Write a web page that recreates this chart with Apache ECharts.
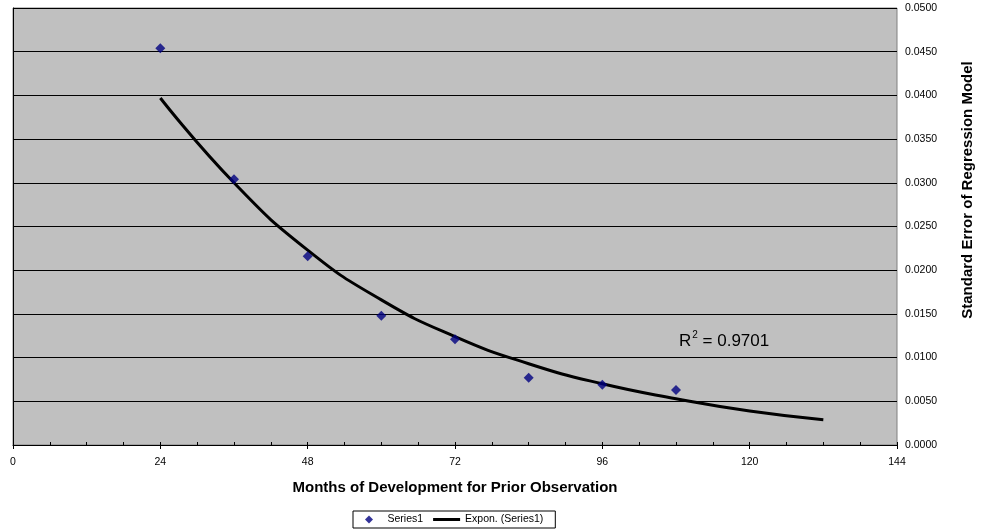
<!DOCTYPE html>
<html>
<head>
<meta charset="utf-8">
<script src="https://cdn.jsdelivr.net/npm/echarts@6/dist/echarts.min.js"></script>
<style>html,body{margin:0;padding:0;background:#fff;}#c{width:1003px;height:531px;}</style>
</head>
<body>
<div id="c"></div>
<script>
// Observed data
const months = [24, 36, 48, 60, 72, 84, 96, 108];
const stdError = [0.0454, 0.0304, 0.0216, 0.0148, 0.0121, 0.0077, 0.0069, 0.0063];
// Exponential trendline
const trendMonths = [24, 36, 48, 60, 72, 84, 96, 108, 120, 132];
const trendValues = [0.0397, 0.0300, 0.0223, 0.0166, 0.0124, 0.0093, 0.0070, 0.0053, 0.0039, 0.0029];
const xTicks = [0, 24, 48, 72, 96, 120, 144];
const yTicks = [0, 0.005, 0.01, 0.015, 0.02, 0.025, 0.03, 0.035, 0.04, 0.045, 0.05];
const rSquared = '0.9701';

const FONT = 'Liberation Sans, Arial, sans-serif';
const chart = echarts.init(document.getElementById('c'), null, {renderer: 'canvas'});

chart.setOption({
  animation: false,
  backgroundColor: '#ffffff',
  grid: {
    left: 13, right: 106, top: 8, bottom: 86,
    show: true, backgroundColor: '#C0C0C0', borderColor: '#808080', borderWidth: 1
  },
  xAxis: [{
    type: 'value', min: xTicks[0], max: xTicks[xTicks.length - 1], interval: 24,
    axisLine: {show: true, lineStyle: {color: '#000', width: 1}},
    axisTick: {show: true, inside: false, length: 4, lineStyle: {color: '#000'}},
    axisLabel: {color: '#000', fontSize: 10.5, fontFamily: FONT, margin: 12},
    splitLine: {show: false},
    name: 'Months of Development for Prior Observation',
    nameLocation: 'middle', nameGap: 35,
    nameTextStyle: {color: '#000', fontSize: 15, fontWeight: 'bold', fontFamily: FONT}
  }, {
    type: 'value', min: xTicks[0], max: xTicks[xTicks.length - 1], interval: 24,
    position: 'bottom',
    axisLine: {show: false},
    axisTick: {show: true, inside: true, length: 3, lineStyle: {color: '#000'}},
    minorTick: {show: true, splitNumber: 4, length: 3, lineStyle: {color: '#000'}},
    axisLabel: {show: false},
    splitLine: {show: false}
  }],
  yAxis: {
    type: 'value', position: 'right', min: yTicks[0], max: yTicks[yTicks.length - 1], interval: 0.005,
    axisLine: {show: true, lineStyle: {color: '#000', width: 1}},
    axisTick: {show: true, inside: false, length: 4, lineStyle: {color: '#000'}},
    axisLabel: {color: '#000', fontSize: 10.5, fontFamily: FONT, margin: 8,
      formatter: v => v.toFixed(4)},
    splitLine: {show: true, lineStyle: {color: '#000', width: 1}}
  },
  legend: {
    left: 353, top: 511,
    borderColor: '#000', borderWidth: 1, padding: [3, 12, 3, 12],
    itemGap: 10, itemWidth: 27, itemHeight: 8, symbolKeepAspect: true,
    textStyle: {color: '#000', fontSize: 10.5, fontFamily: FONT},
    data: [
      {name: 'Series1', icon: 'path://M5,0L10,5L5,10L0,5Z', itemStyle: {color: '#000080'}},
      {name: 'Expon. (Series1)', icon: 'path://M0,0H27V3H0Z', itemStyle: {color: '#000'}}
    ]
  },
  series: [{
    name: 'Series1', type: 'scatter', symbol: 'diamond', symbolSize: 10,
    itemStyle: {color: '#000080'},
    data: months.map((m, i) => [m, stdError[i]]), z: 3
  }, {
    name: 'Expon. (Series1)', type: 'line', smooth: true, symbol: 'none',
    lineStyle: {color: '#000', width: 3}, itemStyle: {color: '#000'},
    data: trendMonths.map((m, i) => [m, trendValues[i]]), z: 2
  }],
  graphic: [{
    type: 'text', left: 679, top: 330,
    style: {
      text: '{r|R}{s|2}{r| = ' + rSquared + '}',
      rich: {
        r: {fontSize: 17, fontFamily: FONT, fill: '#000', verticalAlign: 'bottom', lineHeight: 20},
        s: {fontSize: 10, fontFamily: FONT, fill: '#000', verticalAlign: 'top', lineHeight: 20, padding: [0, 0, 10, 1]}
      }
    }
  }, {
    type: 'text', x: 968, y: 190, rotation: Math.PI / 2,
    style: {
      text: 'Standard Error of Regression Model',
      fontSize: 15, fontWeight: 'bold', fontFamily: FONT, fill: '#000',
      textAlign: 'center', textVerticalAlign: 'middle'
    }
  }]
});
</script>
</body>
</html>
